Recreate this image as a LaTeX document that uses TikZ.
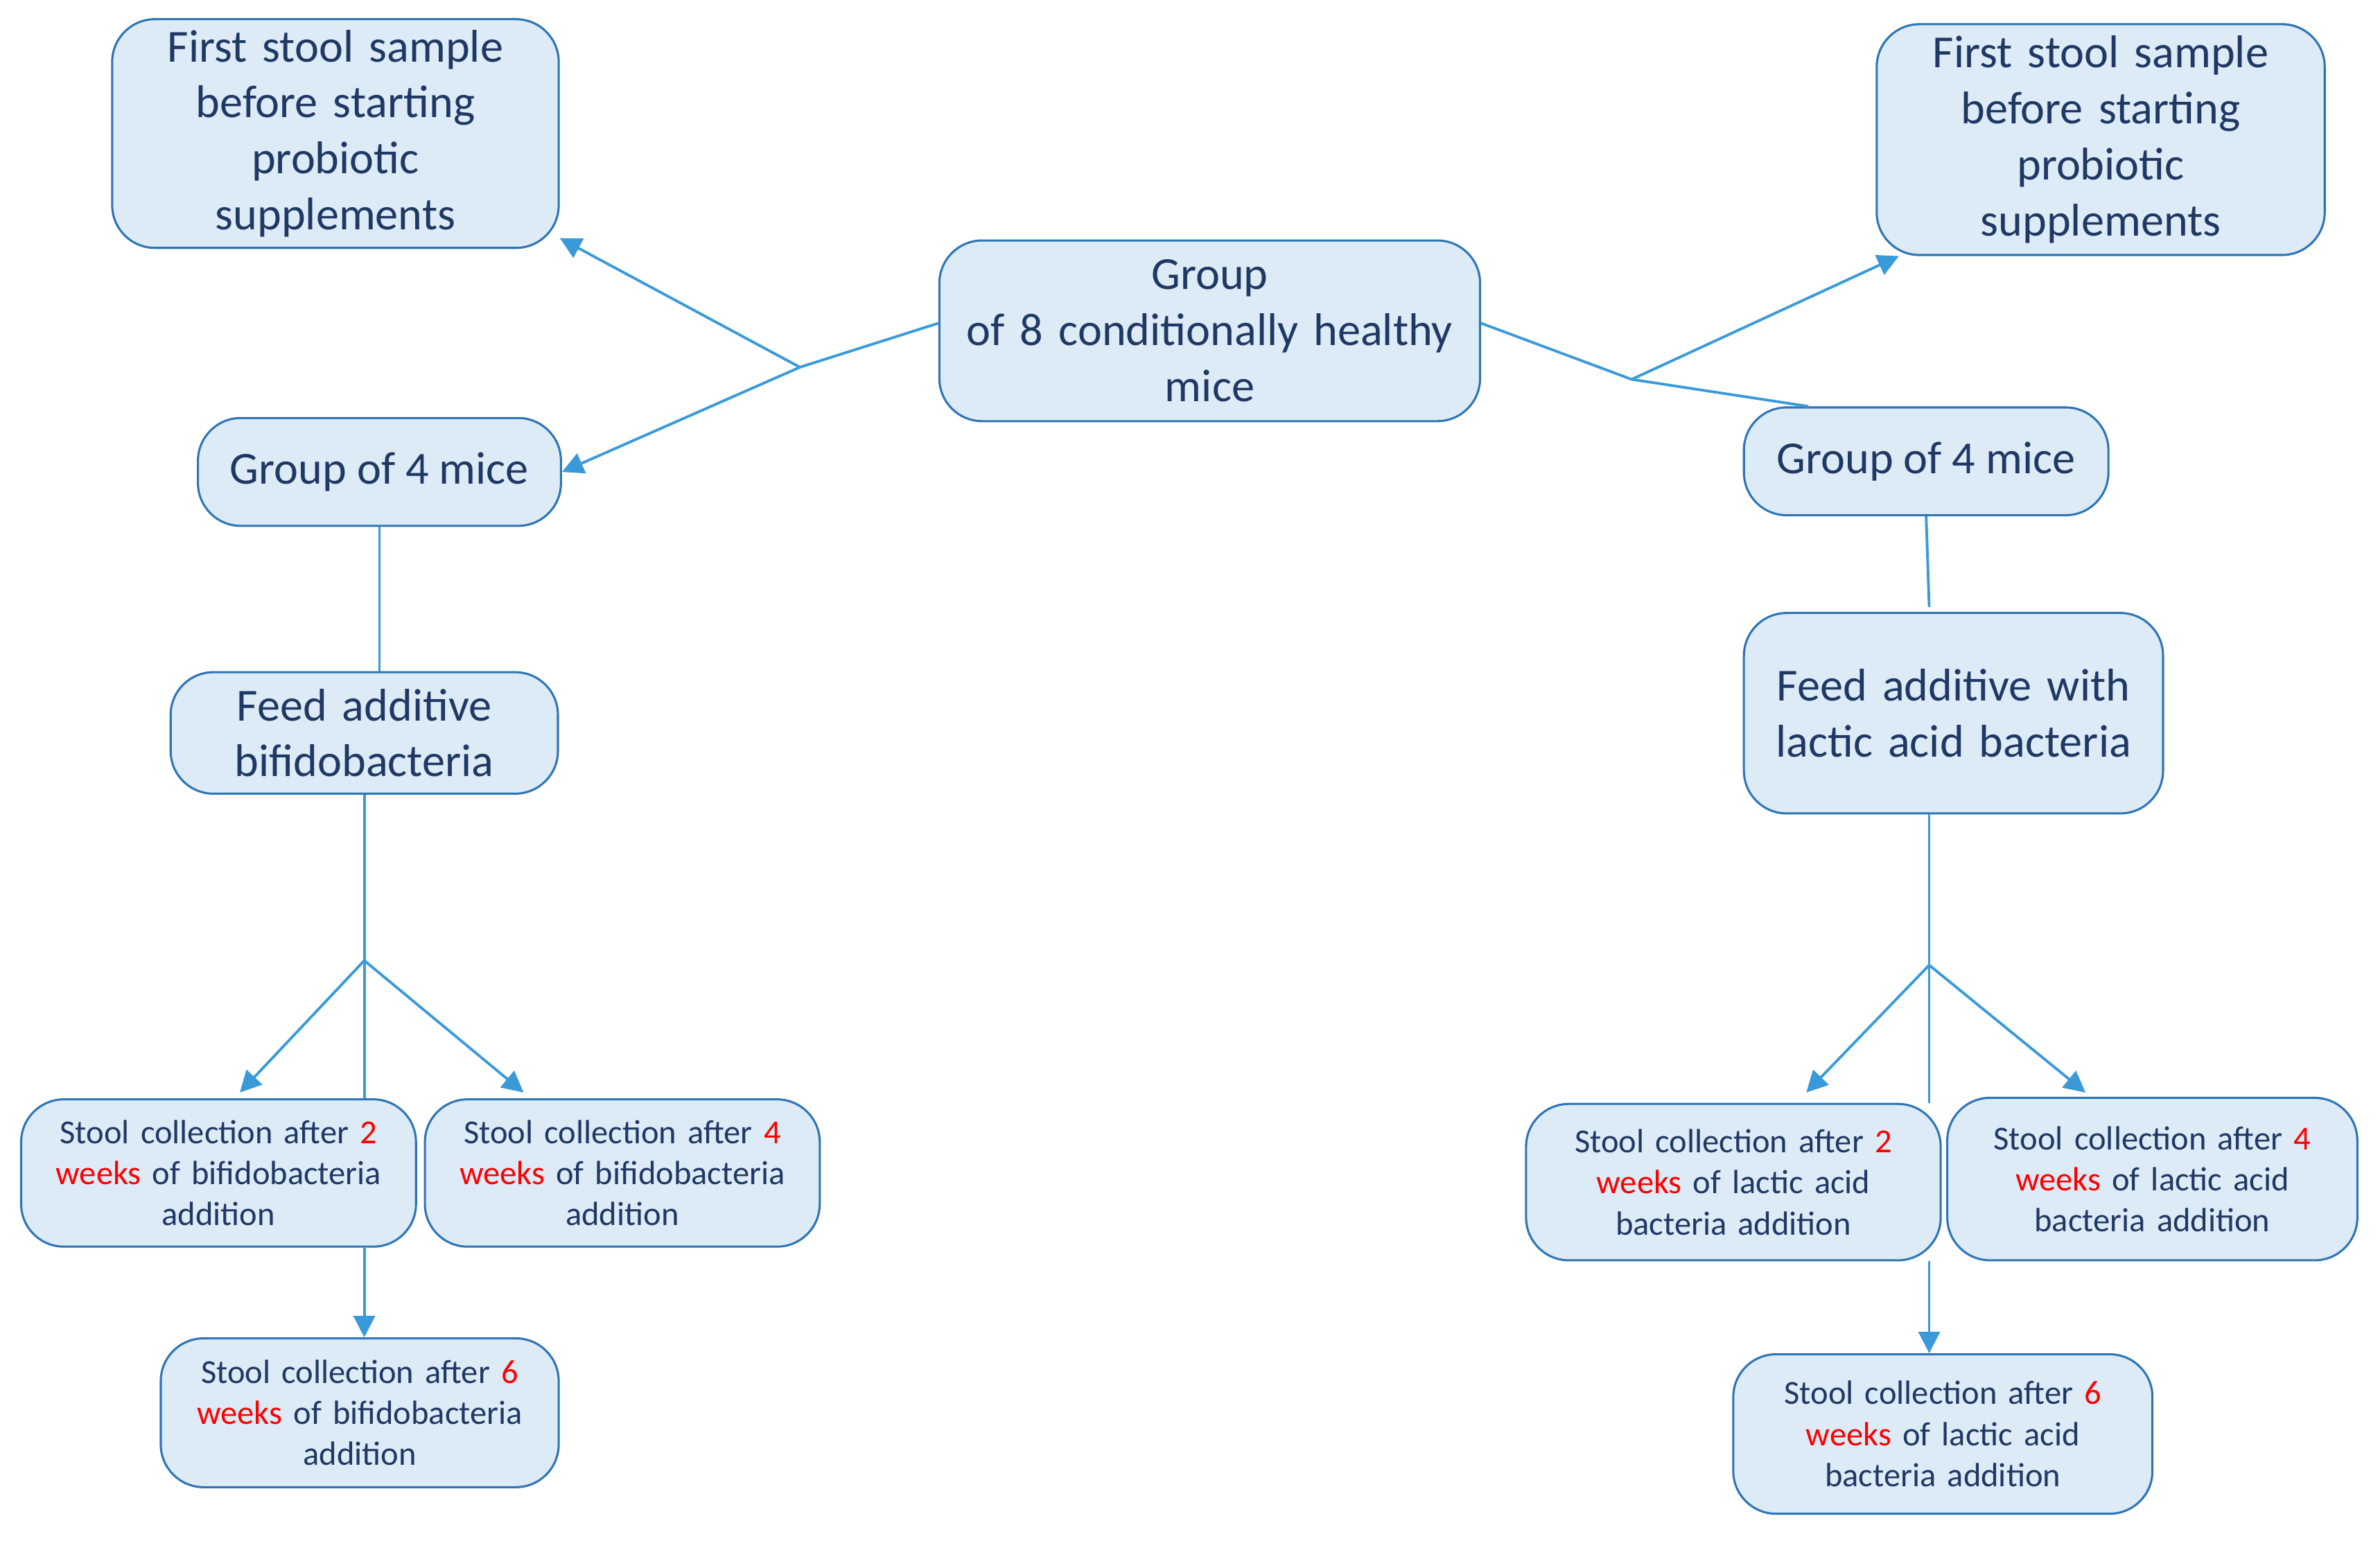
\documentclass[tikz,border=0pt]{standalone}
\usepackage{fontspec}
\setmainfont{Carlito}
\usetikzlibrary{arrows.meta,positioning}
\definecolor{boxfill}{HTML}{DDEBF7}
\definecolor{boxline}{HTML}{2E75B6}
\definecolor{linkblue}{HTML}{3A9AD9}
\definecolor{txtnavy}{HTML}{1F3864}
\newcommand{\wk}[1]{\textcolor{red}{#1}}
\begin{document}
\begin{tikzpicture}[x=0.01cm,y=-0.01cm,
    box/.style={draw=boxline,fill=boxfill,rounded corners=8pt,align=center,
      text=txtnavy,inner sep=2pt,font=\fontsize{8.6}{10.5}\selectfont},
    small/.style={box,font=\fontsize{6.3}{7.7}\selectfont},
    link/.style={draw=linkblue,line width=0.5pt},
    arr/.style={link,-{Triangle[width=4pt,length=4pt]}}]
  \useasboundingbox (0,0) rectangle (1568,1021);
  % top level
  \node[box,minimum width=3.56cm,minimum height=1.19cm,text width=3.3cm] (grp) at (797,218)
    {Group\\of 8 conditionally healthy\\mice};
  \node[box,minimum width=2.94cm,minimum height=1.44cm,text width=2.7cm] (firstL) at (221,88)
    {First stool sample\\before starting\\probiotic\\supplements};
  \node[box,minimum width=2.95cm,minimum height=1.52cm,text width=2.7cm] (firstR) at (1384,92)
    {First stool sample\\before starting\\probiotic\\supplements};
  \node[box,minimum width=2.39cm,minimum height=0.71cm] (gL) at (250,311) {Group of 4 mice};
  \node[box,minimum width=2.4cm,minimum height=0.71cm] (gR) at (1269,304) {Group of 4 mice};
  \node[box,minimum width=2.55cm,minimum height=0.8cm,text width=2.3cm] (feedL) at (240,483)
    {Feed additive\\bifidobacteria};
  \node[box,minimum width=2.76cm,minimum height=1.32cm,text width=2.5cm] (feedR) at (1287,470)
    {Feed additive with\\lactic acid bacteria};
  % stool collections
  \node[small,minimum width=2.6cm,minimum height=0.97cm,text width=2.4cm] (l2) at (144,773)
    {Stool collection after \wk{2}\\\wk{weeks} of bifidobacteria\\addition};
  \node[small,minimum width=2.6cm,minimum height=0.97cm,text width=2.4cm] (l4) at (410,773)
    {Stool collection after \wk{4}\\\wk{weeks} of bifidobacteria\\addition};
  \node[small,minimum width=2.62cm,minimum height=0.98cm,text width=2.4cm] (l6) at (237,931)
    {Stool collection after \wk{6}\\\wk{weeks} of bifidobacteria\\addition};
  \node[small,minimum width=2.73cm,minimum height=1.03cm,text width=2.5cm] (r2) at (1142,779)
    {Stool collection after \wk{2}\\\wk{weeks} of lactic acid\\bacteria addition};
  \node[small,minimum width=2.7cm,minimum height=1.07cm,text width=2.5cm] (r4) at (1418,777)
    {Stool collection after \wk{4}\\\wk{weeks} of lactic acid\\bacteria addition};
  \node[small,minimum width=2.76cm,minimum height=1.05cm,text width=2.5cm] (r6) at (1280,945)
    {Stool collection after \wk{6}\\\wk{weeks} of lactic acid\\bacteria addition};
  % branch points
  \coordinate (bL) at (527,242);
  \coordinate (bR) at (1075,250);
  \coordinate (jL) at (240,633);
  \coordinate (jR) at (1271,636);
  \coordinate (eR) at (1271,400);
  \path[link] (grp.west) ++(0,-5) -- (bL);
  \path[arr] (bL) -- (firstL.-25);
  \path[arr] (bL) -- (gL.east);
  \path[link] (grp.east) ++(0,-5) -- (bR) -- (gR.155);
  \path[arr] (bR) -- (firstR.-150);
  \path[link] (gL.south) -- (gL.south |- feedL.north);
  \path[link] (gR.south) -- (eR);
  \path[link] (feedL.south) -- (jL) -- (jL |- l2.north);
  \path[arr] (jL) -- (158,720);
  \path[arr] (jL) -- (345,720);
  \path[arr] (jL |- l2.south) -- (jL |- l6.north);
  \path[link] (jR |- feedR.south) -- (jR) -- (jR |- r2.north);
  \path[arr] (jR) -- (1190,720);
  \path[arr] (jR) -- (1374,720);
  \path[arr] (jR |- r2.south) -- (jR |- r6.north);
\end{tikzpicture}
\end{document}
